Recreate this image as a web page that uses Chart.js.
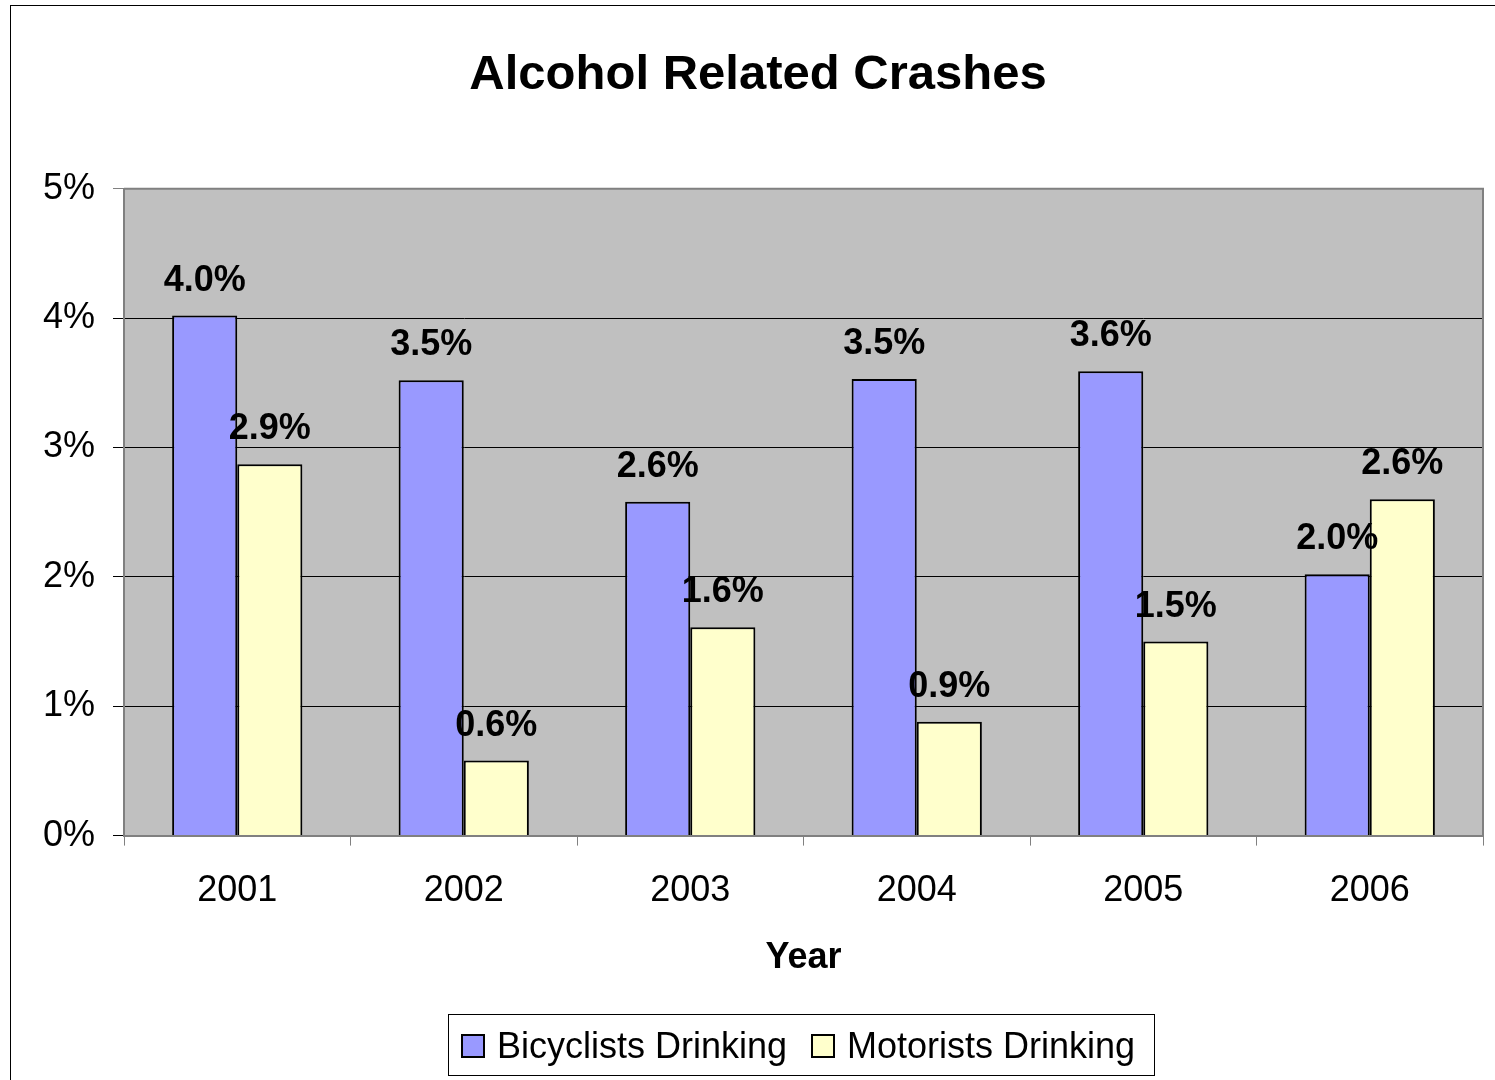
<!DOCTYPE html>
<html>
<head>
<meta charset="utf-8">
<script src="https://cdn.jsdelivr.net/npm/chart.js@4"></script>
<style>
html,body{margin:0;padding:0;background:#fff;}
#wrap{width:1495px;height:1080px;position:relative;}
</style>
</head>
<body>
<div id="wrap"><canvas id="chart" width="1495" height="1080"></canvas></div>
<script>
const years=['2001','2002','2003','2004','2005','2006'];
const bicyclists=[4.02,3.52,2.58,3.53,3.59,2.02];
const motorists=[2.87,0.58,1.61,0.88,1.50,2.60];
const yTicks=[0,1,2,3,4,5];

const FONT='"Liberation Sans", Arial, sans-serif';

// grey plot area + outer frame
const plotBg={
    id:'plotBg',
    beforeDraw(c){
        const {ctx,chartArea:a}=c;
        ctx.save();
        ctx.strokeStyle='#000';ctx.lineWidth=1;
        ctx.strokeRect(10.5,5.5,1500,1100);
        ctx.fillStyle='#C0C0C0';
        ctx.fillRect(a.left,a.top,a.right-a.left,a.bottom-a.top);
        ctx.restore();
    },
    afterDraw(c){
        const {ctx,chartArea:a}=c;
        ctx.save();
        ctx.strokeStyle='#808080';ctx.lineWidth=2;
        ctx.beginPath();
        ctx.moveTo(a.left,a.top);ctx.lineTo(a.right,a.top);ctx.lineTo(a.right,a.bottom);
        ctx.stroke();
        ctx.restore();
    }
};

// value labels above bars
const valueLabels={
    id:'valueLabels',
    afterDatasetsDraw(c){
        const ctx=c.ctx;
        ctx.save();
        ctx.font='bold 36px '+FONT;
        ctx.fillStyle='#000';ctx.textAlign='center';ctx.textBaseline='alphabetic';
        c.data.datasets.forEach((ds,i)=>{
            c.getDatasetMeta(i).data.forEach((el,j)=>{
                ctx.fillText(ds.data[j].toFixed(1)+'%',el.x,el.y-25);
            });
        });
        ctx.restore();
    }
};

// boxed legend at bottom
const boxLegend={
    id:'boxLegend',
    afterDraw(c){
        const ctx=c.ctx;
        ctx.save();
        ctx.strokeStyle='#000';ctx.lineWidth=1;
        ctx.strokeRect(448.5,1014.5,706,61);
        ctx.font='36px '+FONT;ctx.textBaseline='alphabetic';ctx.textAlign='left';
        const xs=[462,812];
        c.data.datasets.forEach((ds,i)=>{
            ctx.fillStyle=ds.backgroundColor;
            ctx.fillRect(xs[i],1035,22,22);
            ctx.strokeStyle='#000';ctx.lineWidth=2;
            ctx.strokeRect(xs[i],1035,22,22);
            ctx.fillStyle='#000';
            ctx.fillText(ds.label,xs[i]+35,1058);
        });
        ctx.restore();
    }
};

new Chart(document.getElementById('chart'),{
    type:'bar',
    data:{labels:years,datasets:[
        {label:'Bicyclists Drinking',data:bicyclists,backgroundColor:'#9999FF',borderColor:'#000',borderWidth:2,categoryPercentage:0.575,barPercentage:1},
        {label:'Motorists Drinking',data:motorists,backgroundColor:'#FFFFCC',borderColor:'#000',borderWidth:2,categoryPercentage:0.575,barPercentage:1}
    ]},
    options:{
        responsive:false,animation:false,
        layout:{padding:{left:33,right:12,top:0,bottom:100}},
        plugins:{
            legend:{display:false},
            tooltip:{enabled:false},
            title:{display:true,text:'Alcohol Related Crashes',color:'#000',font:{family:FONT,size:49,weight:'bold'},padding:{top:46,bottom:84}}
        },
        scales:{
            x:{
                grid:{offset:true,drawOnChartArea:false,tickLength:10,color:'#808080',lineWidth:1},
                border:{color:'#808080',width:2},
                ticks:{color:'#000',font:{family:FONT,size:36},padding:24},
                title:{display:true,text:'Year',color:'#000',font:{family:FONT,size:36,weight:'bold'},padding:{top:0,bottom:0}}
            },
            y:{
                min:0,max:5,
                afterBuildTicks(s){s.ticks=yTicks.map(v=>({value:v}));},
                afterFit(s){s.width=91;},
                grid:{tickLength:11,color:ctx=>ctx.tick&&ctx.tick.value===5?'#808080':'#000',lineWidth:1},
                border:{color:'#808080',width:2},
                ticks:{color:'#000',font:{family:FONT,size:36},padding:18,callback:v=>v+'%'}
            }
        }
    },
    plugins:[plotBg,valueLabels,boxLegend]
});
</script>
</body>
</html>
